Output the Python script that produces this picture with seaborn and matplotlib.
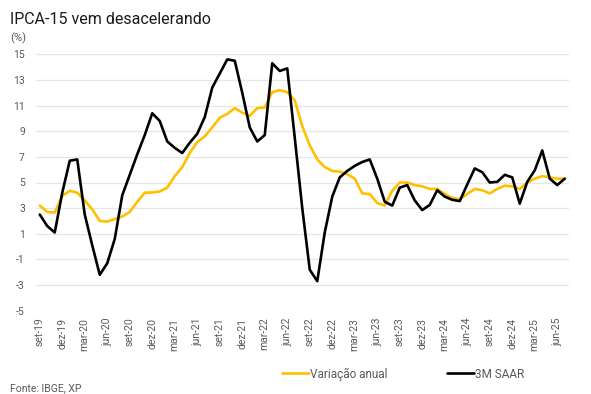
import pandas as pd
import matplotlib.pyplot as plt
import seaborn as sns

# meses de set-19 a jul-25
meses_pt = ["jan", "fev", "mar", "abr", "mai", "jun", "jul", "ago", "set", "out", "nov", "dez"]
periodos = pd.period_range("2019-09", "2025-07", freq="M")
meses = [f"{meses_pt[p.month - 1]}-{str(p.year)[2:]}" for p in periodos]

variacao_anual = [
    3.2, 2.7, 2.65, 3.95, 4.35, 4.2, 3.6, 2.9, 2.0, 1.95, 2.15, 2.35,
    2.7, 3.5, 4.2, 4.22, 4.3, 4.6, 5.5, 6.2, 7.3, 8.15, 8.6, 9.3,
    10.05, 10.35, 10.8, 10.45, 10.2, 10.8, 10.85, 12.05, 12.2, 12.05, 11.4, 9.4,
    7.9, 6.8, 6.2, 5.9, 5.85, 5.65, 5.3, 4.15, 4.1, 3.4, 3.2, 4.35,
    5.0, 5.0, 4.8, 4.7, 4.5, 4.5, 4.1, 3.8, 3.7, 4.1, 4.5, 4.4,
    4.15, 4.5, 4.75, 4.7, 4.5, 5.0, 5.3, 5.5, 5.4, 5.3, 5.3,
]

saar_3m = [
    2.5, 1.6, 1.1, 4.2, 6.7, 6.8, 2.5, 0.1, -2.2, -1.3, 0.6, 4.0,
    5.6, 7.2, 8.7, 10.4, 9.8, 8.2, 7.7, 7.3, 8.1, 8.8, 10.1, 12.4,
    13.5, 14.6, 14.5, 12.0, 9.3, 8.2, 8.7, 14.3, 13.7, 13.9, 8.5, 3.0,
    -1.8, -2.7, 1.1, 3.9, 5.4, 5.9, 6.3, 6.6, 6.8, 5.3, 3.5, 3.2,
    4.6, 4.8, 3.6, 2.85, 3.25, 4.4, 3.9, 3.65, 3.55, 4.85, 6.1, 5.8,
    5.0, 5.05, 5.6, 5.4, 3.35, 5.05, 5.95, 7.5, 5.3, 4.8, 5.3,
]

series = ["Variação anual", "3M SAAR"]
cores = ["#FFC000", "#000000"]
y_ticks = [15, 13, 11, 9, 7, 5, 3, 1, -1, -3, -5]

sns.set_theme(style="white")
plt.rcParams["font.family"] = ["Roboto", "DejaVu Sans"]

df = pd.DataFrame({
    "idx": list(range(len(meses))) * 2,
    "valor": variacao_anual + saar_3m,
    "serie": [series[0]] * len(meses) + [series[1]] * len(meses),
})

fig = plt.figure(figsize=(5.91, 3.94), dpi=100)
ax = fig.add_axes([36 / 591, 1 - 310.7 / 394, (568.5 - 36) / 591, (310.7 - 54.3) / 394])

sns.lineplot(data=df, x="idx", y="valor", hue="serie", hue_order=series,
             palette=cores, linewidth=1.9, ax=ax, legend=False)

ax.set_xlim(-0.5, len(meses) - 0.5)
ax.set_ylim(-5, 15)
ax.set_yticks(y_ticks)
ax.set_yticklabels([str(v) for v in y_ticks])
ax.yaxis.grid(True, color="#E6E6E6", linewidth=0.9)
ax.set_axisbelow(True)
for s in ax.spines.values():
    s.set_visible(False)

pos = list(range(0, len(meses), 3))
ax.set_xticks(pos)
ax.set_xticklabels([meses[i] for i in pos], rotation=90)
ax.set_xticks([p + 0.5 for p in pos], minor=True)
ax.tick_params(axis="x", which="major", length=0, pad=5, labelsize=7.5, labelcolor="#595959")
ax.tick_params(axis="x", which="minor", length=3, color="#BFBFBF", width=0.6)
ax.tick_params(axis="y", length=0, pad=8, labelsize=7.5, labelcolor="#595959")
ax.set_xlabel("")
ax.set_ylabel("")

fig.text(10 / 591, 1 - 24 / 394, "IPCA-15 vem desacelerando", fontsize=11.5, color="#1a1a1a")
fig.text(10 / 591, 1 - 41 / 394, "(%)", fontsize=8, color="#595959")
fig.text(10 / 591, 1 - 391 / 394, "Fonte: IBGE, XP", fontsize=7.5, color="#595959")

handles = [plt.Line2D([], [], color=c, linewidth=1.9) for c in cores]
fig.legend(handles, series, loc="center", bbox_to_anchor=(403 / 591, 1 - 374 / 394),
           ncol=2, frameon=False, fontsize=8.5, labelcolor="#595959",
           handlelength=2.3, handletextpad=0.1, columnspacing=5.0)

fig.savefig("out.png", dpi=100)
